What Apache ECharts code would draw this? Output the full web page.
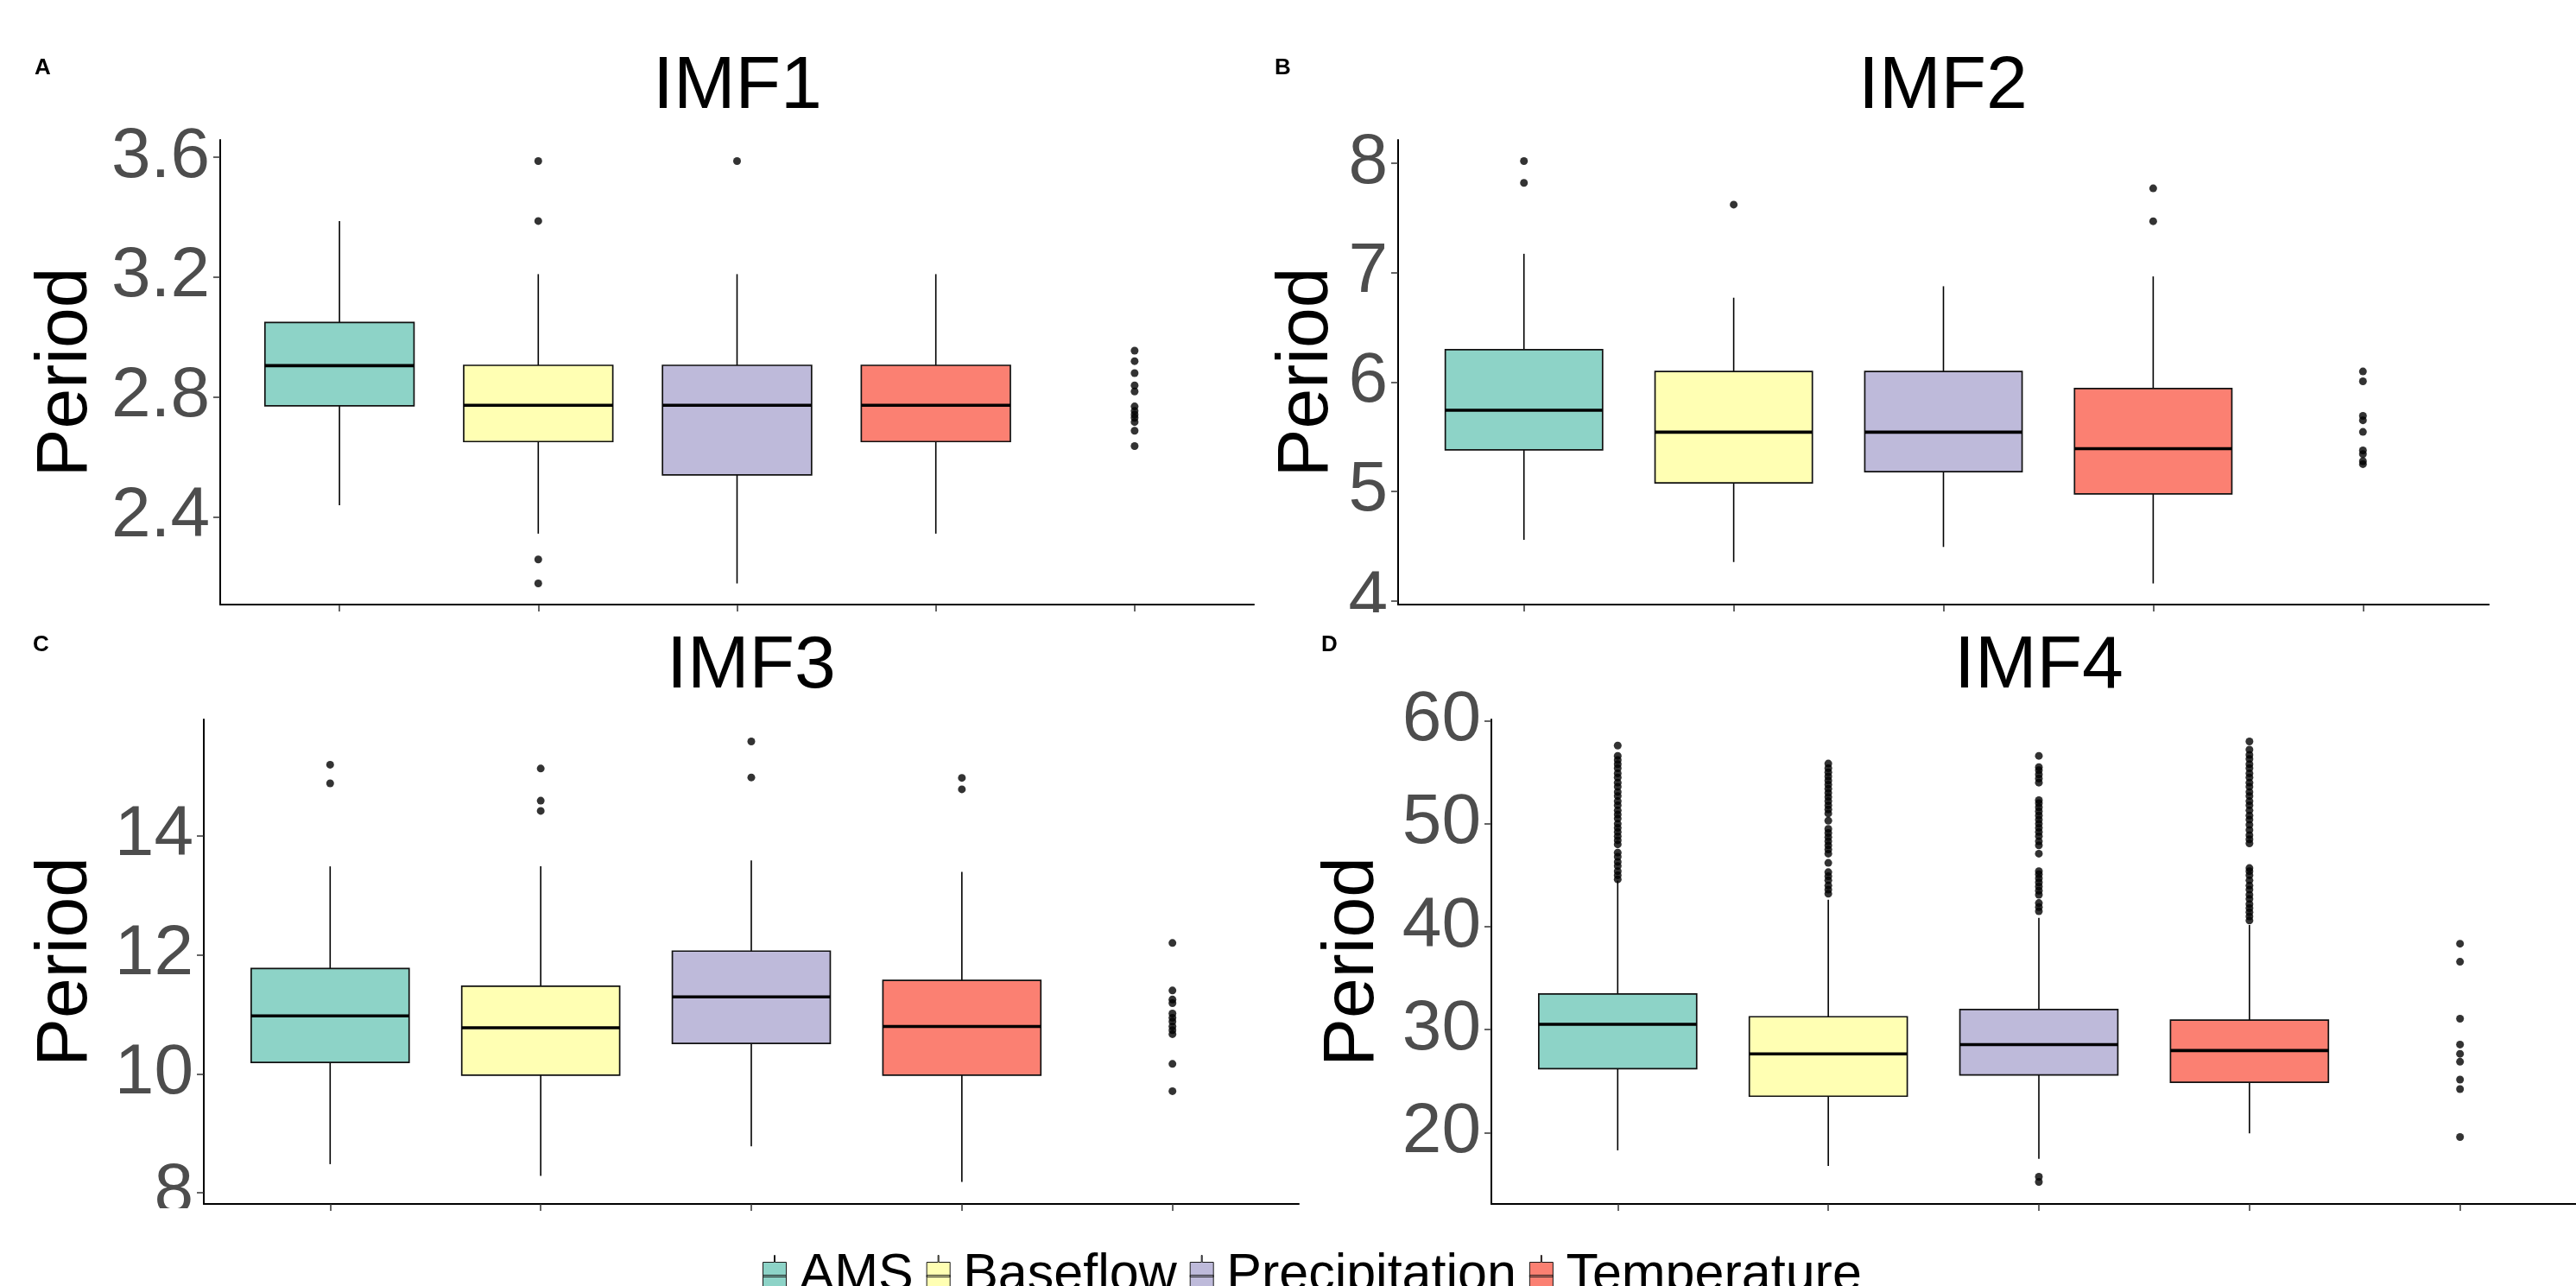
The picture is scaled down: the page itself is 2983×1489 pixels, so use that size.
<!DOCTYPE html>
<html><head><meta charset="utf-8">
<script src="https://cdn.jsdelivr.net/npm/echarts@6/dist/echarts.min.js"></script>
<style>html,body{margin:0;padding:0;background:#fff}#c{width:2983px;height:1489px}</style>
</head><body><div id="c"></div>
<script>
// ---------------- data ----------------
const categories = ['AMS', 'Baseflow', 'Precipitation', 'Temperature'];
const colors = ['#8DD3C7', '#FFFFB3', '#BEBADA', '#FB8072'];
const panelTitles = ['IMF1', 'IMF2', 'IMF3', 'IMF4'];
const panelLetters = ['A', 'B', 'C', 'D'];
const yAxisName = 'Period';

// [lower whisker, Q1, median, Q3, upper whisker] for AMS, Baseflow, Precipitation, Temperature
const imf1Box = [
  [2.44, 2.771, 2.905, 3.049, 3.387],
  [2.345, 2.652, 2.773, 2.906, 3.21],
  [2.179, 2.541, 2.773, 2.906, 3.21],
  [2.345, 2.652, 2.773, 2.906, 3.21]
];
const imf1Outliers = [[], [3.587, 3.387, 2.259, 2.179], [3.587], []];
const imf1NA = [2.955, 2.92, 2.88, 2.839, 2.819, 2.769, 2.754, 2.742, 2.731, 2.717, 2.688, 2.637];
const imf1Ticks = [2.4, 2.8, 3.2, 3.6];

const imf2Box = [
  [4.555, 5.378, 5.741, 6.296, 7.173],
  [4.352, 5.077, 5.541, 6.096, 6.771],
  [4.49, 5.179, 5.541, 6.096, 6.876],
  [4.156, 4.975, 5.389, 5.94, 6.966]
];
const imf2Outliers = [[8.022, 7.822], [7.623], [], [7.772, 7.471]];
const imf2NA = [6.096, 6.006, 5.69, 5.649, 5.543, 5.374, 5.34, 5.275, 5.248];
const imf2Ticks = [4, 5, 6, 7, 8];

const imf3Box = [
  [8.484, 10.192, 10.975, 11.772, 13.488],
  [8.285, 9.979, 10.776, 11.473, 13.488],
  [8.783, 10.512, 11.295, 12.064, 13.587],
  [8.185, 9.979, 10.797, 11.573, 13.395]
];
const imf3Outliers = [[15.196, 14.883], [15.132, 14.591, 14.42], [15.587, 14.982], [14.975, 14.783]];
const imf3NA = [12.2, 11.402, 11.25, 11.19, 11.016, 10.943, 10.88, 10.798, 10.734, 10.668, 10.168, 9.71];
const imf3Ticks = [8, 10, 12, 14];

const imf4Box = [
  [18.27, 26.2, 30.51, 33.47, 44.48],
  [16.76, 23.53, 27.64, 31.25, 42.63],
  [17.45, 25.59, 28.54, 31.95, 40.86],
  [19.92, 24.89, 27.97, 30.92, 40.16]
];
const imf4AMSOut = [44.6, 45.0, 45.4, 45.9, 46.3, 46.8, 47.2, 48.0, 48.4, 48.8, 49.2, 49.6, 50.0, 50.5, 50.9, 51.3, 51.8, 52.2, 52.7, 53.1, 53.6, 54.0, 54.5, 54.9, 55.4, 55.8, 56.2, 56.6, 57.6];
const imf4BaseflowOut = [43.2, 43.6, 44.0, 44.5, 44.9, 45.3, 46.2, 47.1, 47.5, 47.9, 48.3, 48.7, 49.1, 49.5, 50.3, 51.0, 51.4, 51.8, 52.2, 52.6, 53.0, 53.4, 53.8, 54.2, 54.6, 55.0, 55.4, 55.85];
const imf4PrecipOut = [15.7, 15.2, 41.5, 41.9, 42.3, 43.1, 43.5, 43.9, 44.3, 44.7, 45.1, 45.4, 47.1, 47.9, 48.3, 48.8, 49.2, 49.6, 50.0, 50.4, 50.8, 51.2, 51.6, 52.0, 52.3, 54.0, 54.4, 54.8, 55.2, 55.5, 56.6];
const imf4TempOut = [40.6, 41.0, 41.4, 41.8, 42.2, 42.7, 43.1, 43.6, 44.0, 44.5, 45.0, 45.4, 45.7, 48.1, 48.5, 48.9, 49.4, 49.9, 50.4, 50.8, 51.3, 51.8, 52.2, 52.7, 53.1, 53.6, 54.0, 54.5, 54.9, 55.4, 55.8, 56.3, 56.7, 57.2, 58.0];
const imf4Outliers = [imf4AMSOut, imf4BaseflowOut, imf4PrecipOut, imf4TempOut];
const imf4NA = [38.35, 36.59, 31.06, 28.55, 27.65, 26.88, 25.14, 24.22, 19.56];
const imf4Ticks = [20, 30, 40, 50, 60];

// ---------------- layout / style ----------------
const FONT = "'Liberation Sans', Arial, Helvetica, sans-serif";
const BOX_W = 0.75;
const boxes = [imf1Box, imf2Box, imf3Box, imf4Box];
const outliers = [imf1Outliers, imf2Outliers, imf3Outliers, imf4Outliers];
const naPoints = [imf1NA, imf2NA, imf3NA, imf4NA];
const ticks = [imf1Ticks, imf2Ticks, imf3Ticks, imf4Ticks];
const grids = [
  {left: 255, top: 162, width: 1197, height: 538},
  {left: 1619, top: 162, width: 1263, height: 538},
  {left: 236, top: 833, width: 1268, height: 561},
  {left: 1727, top: 833, width: 1268, height: 561}
];
const nameGaps = [136, 63, 117, 118];
const titlePos = [[854, 58], [2250, 58], [870, 729], [2361, 729]];
const letterPos = [[40, 66], [1476, 66], [38, 734], [1530, 734]];

function renderBox(params, api) {
  const x = api.value(0);
  const lo = api.coord([x, api.value(1)]);
  const q1 = api.coord([x, api.value(2)]);
  const med = api.coord([x, api.value(3)]);
  const q3 = api.coord([x, api.value(4)]);
  const hi = api.coord([x, api.value(5)]);
  const w = api.size([BOX_W, 0])[0];
  const color = api.visual('color');
  const lineStyle = {stroke: '#000', lineWidth: 1.6};
  return {
    type: 'group',
    children: [
      {type: 'line', shape: {x1: lo[0], y1: lo[1], x2: q1[0], y2: q1[1]}, style: lineStyle},
      {type: 'line', shape: {x1: q3[0], y1: q3[1], x2: hi[0], y2: hi[1]}, style: lineStyle},
      {type: 'rect', shape: {x: q3[0] - w / 2, y: q3[1], width: w, height: q1[1] - q3[1]},
        style: {fill: color, stroke: '#111', lineWidth: 1.7}},
      {type: 'line', shape: {x1: med[0] - w / 2, y1: med[1], x2: med[0] + w / 2, y2: med[1]},
        style: {stroke: '#000', lineWidth: 3.6}}
    ]
  };
}

const option = {
  backgroundColor: '#fff',
  animation: false,
  title: [],
  grid: [],
  xAxis: [],
  yAxis: [],
  series: [],
  legend: {
    left: 883, top: 1447, orient: 'horizontal', padding: 0, itemGap: 15,
    itemWidth: 27, itemHeight: 48, selectedMode: false,
    textStyle: {fontSize: 61, color: '#000', fontFamily: FONT, padding: [0, 0, 0, 10]},
    data: categories.map((n, i) => ({
      name: n,
      icon: 'path://M13,0L14,0L14,8L27,8L27,40L14,40L14,48L13,48L13,40L0,40L0,8L13,8Z M0,23L27,23L27,25L0,25Z',
      itemStyle: {color: colors[i], borderColor: '#1a1a1a', borderWidth: 1}
    }))
  },
  graphic: [
    {type: 'rect', z: 100, shape: {x: 1552, y: 709, width: 64, height: 22}, style: {fill: '#fff'}},
    {type: 'rect', z: 100, shape: {x: 120, y: 1399, width: 114, height: 90}, style: {fill: '#fff'}}
  ]
};

for (let p = 0; p < 4; p++) {
  // y range: data range expanded by 5% on each side
  let all = [];
  boxes[p].forEach(b => all = all.concat(b));
  outliers[p].forEach(o => all = all.concat(o));
  all = all.concat(naPoints[p]);
  const dmin = Math.min(...all), dmax = Math.max(...all);
  const pad = (dmax - dmin) * 0.05;

  option.grid.push(Object.assign({containLabel: false, outerBoundsMode: 'none'}, grids[p]));
  option.title.push({
    text: panelTitles[p], left: titlePos[p][0], top: titlePos[p][1], textAlign: 'center', padding: 0,
    textStyle: {fontSize: 86, fontWeight: 'normal', color: '#000', fontFamily: FONT}
  });
  option.title.push({
    text: panelLetters[p], left: letterPos[p][0], top: letterPos[p][1], padding: 0,
    textStyle: {fontSize: 26, fontWeight: 'bold', color: '#000', fontFamily: FONT}
  });
  option.xAxis.push({
    type: 'value', gridIndex: p, min: 0.4, max: 5.6,
    axisLine: {show: true, lineStyle: {color: '#000', width: 2}},
    axisTick: {show: true, customValues: [1, 2, 3, 4, 5], length: 8, lineStyle: {color: '#333', width: 1.5}},
    axisLabel: {show: false, customValues: [1, 2, 3, 4, 5]},
    splitLine: {show: false}
  });
  option.yAxis.push({
    type: 'value', gridIndex: p, min: dmin - pad, max: dmax + pad,
    name: yAxisName, nameLocation: 'middle', nameGap: nameGaps[p],
    nameTextStyle: {fontSize: 84, color: '#000', fontFamily: FONT},
    axisLine: {show: true, lineStyle: {color: '#000', width: 2}},
    axisTick: {show: true, customValues: ticks[p], length: 8, lineStyle: {color: '#333', width: 1.5}},
    axisLabel: {show: true, customValues: ticks[p], fontSize: 82, color: '#4D4D4D', fontFamily: FONT, margin: 12},
    splitLine: {show: false}
  });
  for (let c = 0; c < categories.length; c++) {
    option.series.push({
      type: 'custom', name: categories[c], xAxisIndex: p, yAxisIndex: p,
      itemStyle: {color: colors[c]},
      encode: {x: 0, y: [1, 2, 3, 4, 5]},
      data: [[c + 1].concat(boxes[p][c])],
      renderItem: renderBox, z: 2, silent: true
    });
  }
  const pts = [];
  outliers[p].forEach((arr, c) => arr.forEach(v => pts.push([c + 1, v])));
  naPoints[p].forEach(v => pts.push([5, v]));
  option.series.push({
    type: 'scatter', name: 'points', xAxisIndex: p, yAxisIndex: p,
    symbol: 'circle', symbolSize: 9, itemStyle: {color: '#000'},
    data: pts, z: 3, silent: true
  });
}

const chart = echarts.init(document.getElementById('c'), null, {renderer: 'canvas'});
chart.setOption(option);
</script>
</body></html>
